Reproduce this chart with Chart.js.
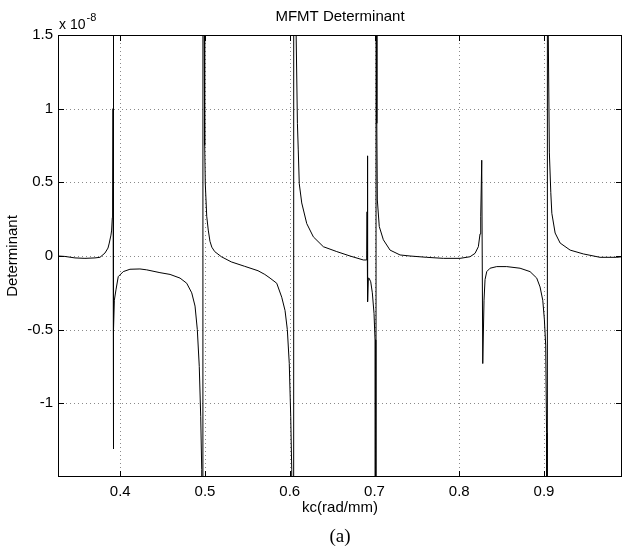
<!DOCTYPE html>
<html>
<head>
<meta charset="utf-8">
<script src="https://cdn.jsdelivr.net/npm/chart.js@4/dist/chart.umd.min.js"></script>
<style>
html,body{margin:0;padding:0;background:#fff;}
#wrap{width:623px;height:549px;}
</style>
</head>
<body>
<div id="wrap"><canvas id="grafDet" width="623" height="549"></canvas></div>
<script>
// kc (rad/mm) and determinant (x 1e-8)
const kc=[
0.3265,0.3347,0.3465,0.3583,0.3701,0.3760,0.3819,0.3855,0.3870,0.3890,0.3898,0.3906,0.3910,0.3914,0.3917,
0.3920,0.3923,0.3930,0.3949,0.3976,0.4035,0.4114,0.4232,0.4312,0.4468,0.4587,0.4705,0.4784,0.4843,0.4882,
0.4909,0.4932,0.4949,0.4961,0.4970,
0.4980,0.4990,0.4996,0.5003,0.5020,0.5038,0.5058,0.5080,0.5114,0.5193,0.5310,0.5468,0.5625,0.5705,0.5767,
0.5846,0.5905,0.5944,0.5971,0.5994,0.6011,0.6023,0.6038,
0.6054,0.6075,0.6090,0.6100,0.6112,0.6141,0.6200,0.6278,0.6396,0.6554,0.6711,0.6868,0.6900,0.6908,0.6912,
0.6915,0.6921,0.6927,0.6935,0.6955,0.6974,0.6994,0.7006,0.7013,0.7016,
0.7021,0.7027,0.7033,0.7056,0.7104,0.7183,0.7301,0.7419,0.7616,0.7812,0.8009,0.8127,0.8186,0.8225,0.8245,
0.8253,0.8265,0.8277,0.8292,0.8304,0.8324,0.8363,0.8442,0.8560,0.8717,0.8835,0.8914,0.8953,0.8985,0.9004,
0.9020,0.9030,0.9035,
0.9044,0.9050,0.9063,0.9080,0.9092,0.9131,0.9190,0.9308,0.9464,0.9661,0.9858,0.9920
];
const det=[
0.000,-0.003,-0.013,-0.016,-0.013,-0.009,0.020,0.054,0.088,0.142,0.176,0.26,0.38,1.0,40,
-1.31,-0.50,-0.30,-0.23,-0.14,-0.106,-0.090,-0.088,-0.094,-0.113,-0.125,-0.150,-0.185,-0.250,-0.340,
-0.500,-0.750,-1.090,-1.450,-40,
40,1.5,0.75,0.49,0.27,0.176,0.10,0.06,0.03,-0.005,-0.040,-0.070,-0.100,-0.125,-0.150,
-0.185,-0.280,-0.370,-0.500,-0.730,-1.090,-1.450,-40,
40,1.5,0.9,0.72,0.49,0.36,0.22,0.13,0.063,0.03,0.0,-0.027,-0.027,0.04,0.30,
0.68,-0.31,-0.15,-0.15,-0.175,-0.25,-0.39,-0.57,-1.2,-40,
40,0.9,0.38,0.20,0.11,0.04,0.007,0.0,-0.009,-0.016,-0.016,-0.005,0.018,0.063,0.15,
0.27,0.65,-0.73,-0.30,-0.16,-0.106,-0.083,-0.072,-0.072,-0.083,-0.106,-0.150,-0.210,-0.300,-0.430,
-0.610,-1.200,-40,
40,1.5,0.70,0.43,0.29,0.156,0.088,0.04,0.014,-0.009,-0.009,-0.005
];

const xTicks=[0.4,0.5,0.6,0.7,0.8,0.9];
const yTicks=[-1,-0.5,0,0.5,1,1.5];
const yTickLabels=["-1","-0.5","0","0.5","1","1.5"];
const xMin=0.3265, xMax=0.992;
const yMin=-1.5, yMax=1.5;

const sans='"Liberation Sans", Arial, Helvetica, sans-serif';

// dotted grid, inward ticks, box and the extra texts
const matlabAxes={
id:"matlabAxes",
beforeDatasetsDraw(chart){
const {ctx,chartArea:a,scales:{x,y}}=chart;
ctx.save();
ctx.strokeStyle="#8a8a8a";
ctx.lineWidth=1;
ctx.setLineDash([1,3]);
xTicks.forEach(v=>{
const px=Math.round(x.getPixelForValue(v))+0.5;
ctx.beginPath();ctx.moveTo(px,a.top);ctx.lineTo(px,a.bottom);ctx.stroke();
});
yTicks.forEach(v=>{
const py=Math.round(y.getPixelForValue(v))+0.5;
ctx.beginPath();ctx.moveTo(a.left,py);ctx.lineTo(a.right,py);ctx.stroke();
});
ctx.restore();
},
afterDraw(chart){
const {ctx,chartArea:a,scales:{x,y}}=chart;
ctx.save();
ctx.strokeStyle="#000";
ctx.lineWidth=1;
ctx.setLineDash([]);
ctx.strokeRect(a.left+0.5,a.top+0.5,a.right-a.left-1,a.bottom-a.top-1);
const tl=6;
ctx.beginPath();
xTicks.forEach(v=>{
const px=Math.round(x.getPixelForValue(v))+0.5;
ctx.moveTo(px,a.bottom);ctx.lineTo(px,a.bottom-tl);
ctx.moveTo(px,a.top);ctx.lineTo(px,a.top+tl);
});
yTicks.forEach(v=>{
const py=Math.round(y.getPixelForValue(v))+0.5;
ctx.moveTo(a.left,py);ctx.lineTo(a.left+tl,py);
ctx.moveTo(a.right,py);ctx.lineTo(a.right-tl,py);
});
ctx.stroke();

ctx.fillStyle="#000";
ctx.textAlign="center";
ctx.textBaseline="middle";
ctx.font="15px "+sans;
ctx.fillText("MFMT Determinant",(a.left+a.right)/2,17);
ctx.fillText("kc(rad/mm)",(a.left+a.right)/2,508);

ctx.save();
ctx.translate(12.5,(a.top+a.bottom)/2);
ctx.rotate(-Math.PI/2);
ctx.fillText("Determinant",0,0);
ctx.restore();

ctx.textAlign="left";
ctx.textBaseline="alphabetic";
ctx.font="14px "+sans;
ctx.fillText("x 10",59,29);
const w=ctx.measureText("x 10").width;
ctx.font="11px "+sans;
ctx.fillText("-8",59+w+1,21);

ctx.textAlign="center";
ctx.textBaseline="middle";
ctx.font='19px "Liberation Serif", "Times New Roman", serif';
ctx.fillText("(a)",(a.left+a.right)/2,537);
ctx.restore();
}
};

new Chart(document.getElementById("grafDet"),{
type:"line",
data:{
datasets:[{
label:"Determinant",
data:kc.map((k,i)=>({x:k,y:det[i]})),
borderColor:"#000",
borderWidth:1,
pointRadius:0,
tension:0,
fill:false
}]
},
options:{
responsive:false,
animation:false,
devicePixelRatio:1,
layout:{padding:{top:35,right:1,left:0,bottom:0}},
plugins:{legend:{display:false},tooltip:{enabled:false},title:{display:false}},
scales:{
x:{
type:"linear",
min:xMin,max:xMax,
afterBuildTicks:s=>{s.ticks=xTicks.map(v=>({value:v}));},
afterFit:s=>{s.height=72;},
grid:{display:false,drawTicks:false},
border:{display:false},
ticks:{
padding:6,
color:"#000",
font:{family:sans,size:15},
maxRotation:0,
callback:v=>String(v)
}
},
y:{
type:"linear",
min:yMin,max:yMax,
afterBuildTicks:s=>{s.ticks=yTicks.map(v=>({value:v}));},
afterFit:s=>{s.width=58;},
grid:{display:false,drawTicks:false},
border:{display:false},
ticks:{
padding:5,
color:"#000",
font:{family:sans,size:15},
callback:v=>yTickLabels[yTicks.indexOf(v)]
}
}
}
},
plugins:[matlabAxes]
});
</script>
</body>
</html>
